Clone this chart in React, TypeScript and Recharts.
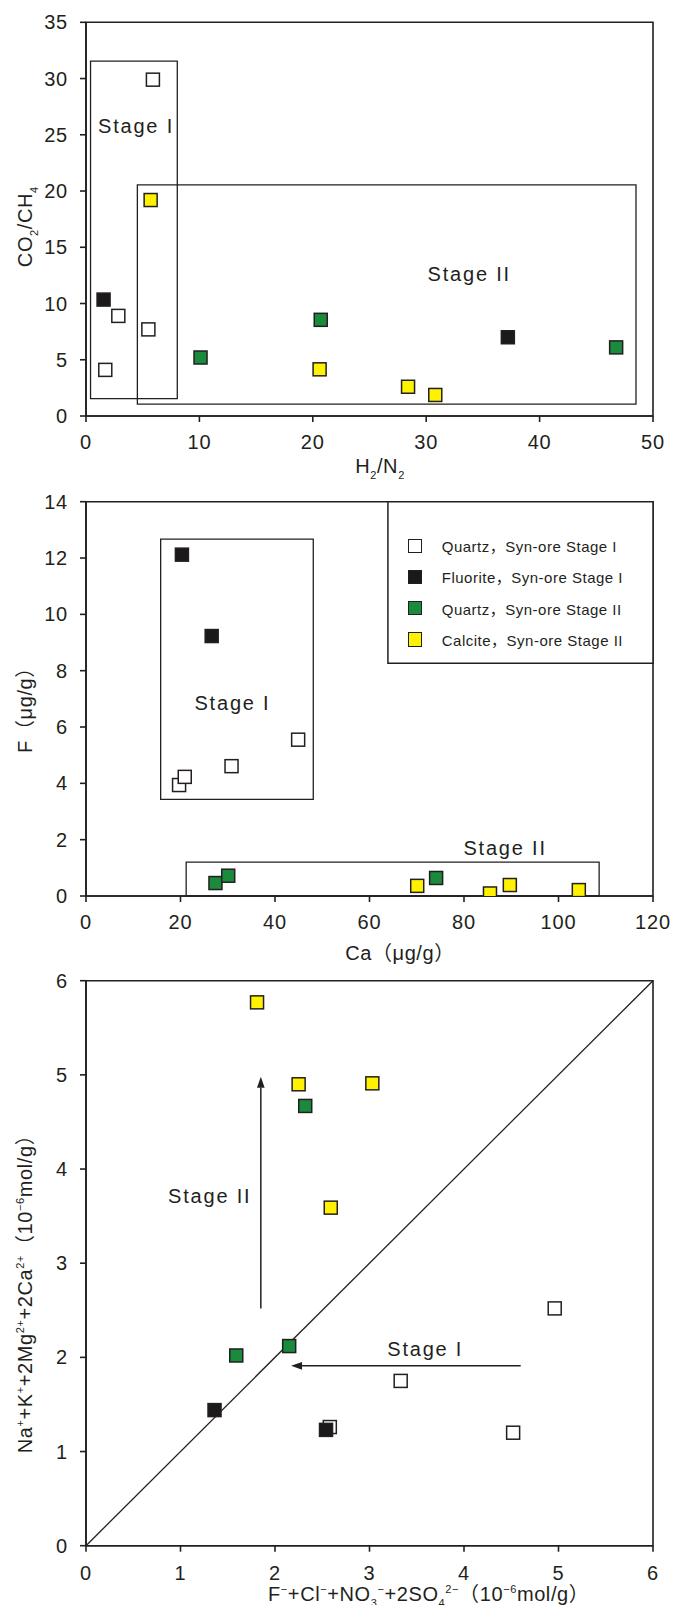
import React from 'react';
import {
  ScatterChart,
  Scatter,
  XAxis,
  YAxis,
  ReferenceArea,
  ReferenceLine,
  Legend,
} from 'recharts';

// ---------- series ----------
const seriesNames = [
  'Quartz，Syn-ore Stage I',
  'Fluorite，Syn-ore Stage I',
  'Quartz，Syn-ore Stage II',
  'Calcite，Syn-ore Stage II',
];
const seriesFills = ['#ffffff', '#1c1a19', '#1a8a3c', '#fff200'];

// Panel 1: H2/N2 vs CO2/CH4
const gasQuartzI = [
  { x: 1.7, y: 4.1 },
  { x: 2.85, y: 8.9 },
  { x: 5.5, y: 7.7 },
  { x: 5.9, y: 29.9 },
];
const gasFluoriteI = [
  { x: 1.55, y: 10.35 },
  { x: 37.2, y: 7.0 },
];
const gasQuartzII = [
  { x: 10.1, y: 5.2 },
  { x: 20.7, y: 8.55 },
  { x: 46.75, y: 6.1 },
];
const gasCalciteII = [
  { x: 5.7, y: 19.2 },
  { x: 20.6, y: 4.15 },
  { x: 28.4, y: 2.6 },
  { x: 30.8, y: 1.87 },
];

// Panel 2: Ca vs F (μg/g)
const fQuartzI = [
  { x: 19.7, y: 3.94 },
  { x: 20.9, y: 4.23 },
  { x: 30.8, y: 4.61 },
  { x: 44.9, y: 5.55 },
];
const fFluoriteI = [
  { x: 20.3, y: 12.12 },
  { x: 26.6, y: 9.23 },
];
const fQuartzII = [
  { x: 27.4, y: 0.46 },
  { x: 30.1, y: 0.72 },
  { x: 74.1, y: 0.64 },
];
const fCalciteII = [
  { x: 70.1, y: 0.36 },
  { x: 85.5, y: 0.09 },
  { x: 89.7, y: 0.39 },
  { x: 104.3, y: 0.21 },
];

// Panel 3: anions vs cations (10^-6 mol/g)
const ionQuartzI = [
  { x: 2.58, y: 1.26 },
  { x: 3.33, y: 1.75 },
  { x: 4.52, y: 1.2 },
  { x: 4.96, y: 2.52 },
];
const ionFluoriteI = [
  { x: 1.36, y: 1.44 },
  { x: 2.54, y: 1.23 },
];
const ionQuartzII = [
  { x: 1.59, y: 2.02 },
  { x: 2.15, y: 2.12 },
  { x: 2.32, y: 4.67 },
];
const ionCalciteII = [
  { x: 1.81, y: 5.77 },
  { x: 2.25, y: 4.9 },
  { x: 3.03, y: 4.91 },
  { x: 2.59, y: 3.59 },
];

// ---------- axes ----------
const gasXTicks = [0, 10, 20, 30, 40, 50];
const gasYTicks = [0, 5, 10, 15, 20, 25, 30, 35];
const caTicks = [0, 20, 40, 60, 80, 100, 120];
const fTicks = [0, 2, 4, 6, 8, 10, 12, 14];
const ionTicks = [0, 1, 2, 3, 4, 5, 6];

// ---------- field outlines and notes ----------
const gasStageBoxes = [
  { x1: 0.4, x2: 8.05, y1: 1.55, y2: 31.55 },
  { x1: 4.53, x2: 48.5, y1: 1.05, y2: 20.55 },
];
const fStageBoxes = [
  { x1: 15.8, x2: 48.1, y1: 3.43, y2: 12.67 },
  { x1: 21.2, x2: 108.6, y1: 0, y2: 1.2 },
];
const fLegendArea = { x1: 63.9, x2: 120, y1: 8.26, y2: 14 };

const gasNotes = [
  { x: 4.41, y: 25.8, label: 'Stage I' },
  { x: 33.8, y: 12.6, label: 'Stage II' },
];
const fNotes = [
  { x: 31.0, y: 6.86, label: 'Stage I' },
  { x: 88.7, y: 1.69, label: 'Stage II' },
];
const ionNotes = [
  { x: 1.31, y: 3.71, label: 'Stage II' },
  { x: 3.59, y: 2.09, label: 'Stage I' },
];
const ionTrends = [
  [{ x: 1.85, y: 2.52 }, { x: 1.85, y: 4.98 }],
  [{ x: 4.6, y: 1.91 }, { x: 2.17, y: 1.91 }],
];
const ionOneToOne = [{ x: 0, y: 0 }, { x: 6, y: 6 }];

// ---------- styling ----------
const FONT = "'Liberation Sans', Arial, 'Noto Sans CJK SC', sans-serif";
const INK = '#231f20';
const W = 686;
const PLOT_LEFT = 86;
const PLOT_RIGHT = 653;
const SQ = 13;

const axisStroke = { stroke: INK, strokeWidth: 1.6 };
const tickStyle = { fill: INK, fontSize: 20, fontFamily: FONT, letterSpacing: 0.8 };

type Seg = [string, number]; // 0 normal, 1 superscript, -1 subscript

function richSpans(segs: Seg[], fs: number) {
  let cur = 0;
  return segs.map(([t, k], i) => {
    const target = k === 1 ? -0.42 * fs : k === -1 ? 0.3 * fs : 0;
    const dy = target - cur;
    cur = target;
    return (
      <tspan key={i} dy={dy} fontSize={k ? fs * 0.55 : fs}>
        {t}
      </tspan>
    );
  });
}

function axisTitle(x: number, y: number, segs: Seg[], rotate = false) {
  return () => (
    <text
      x={x}
      y={y}
      textAnchor="middle"
      fill={INK}
      fontFamily={FONT}
      fontSize={20}
      letterSpacing={0.6}
      transform={rotate ? `rotate(-90 ${x} ${y})` : undefined}
    >
      {richSpans(segs, 20)}
    </text>
  );
}

const squareShape = (fill: string) => (p: any) => {
  if (p.cx == null || p.cy == null) return null;
  return (
    <rect
      x={p.cx - SQ / 2}
      y={p.cy - SQ / 2}
      width={SQ}
      height={SQ}
      fill={fill}
      stroke={INK}
      strokeWidth={1.5}
    />
  );
};

const NoteText = (p: any) => {
  if (p.cx == null || p.cy == null) return null;
  return (
    <text
      x={p.cx}
      y={p.cy}
      textAnchor="middle"
      dominantBaseline="central"
      fontFamily={FONT}
      fontSize={20}
      letterSpacing={1.8}
      fill={INK}
    >
      {p.payload?.label}
    </text>
  );
};

const arrowShape = (p: any) => {
  const { x1, y1, x2, y2 } = p;
  const ang = Math.atan2(y2 - y1, x2 - x1);
  const L = 11;
  const Wd = 3.8;
  const bx = x2 - L * Math.cos(ang);
  const by = y2 - L * Math.sin(ang);
  const nx = -Math.sin(ang) * Wd;
  const ny = Math.cos(ang) * Wd;
  return (
    <g>
      <line x1={x1} y1={y1} x2={bx} y2={by} stroke={INK} strokeWidth={1.5} />
      <polygon
        points={`${x2},${y2} ${bx + nx},${by + ny} ${bx - nx},${by - ny}`}
        fill={INK}
      />
    </g>
  );
};

// Legend rows follow the series order, taking colours from the chart's payload.
const LegendContent = (props: any) => {
  const payload = props.payload || [];
  const items = seriesNames.map((n, i) => {
    const hit = payload.find((e: any) => e.value === n);
    return { value: n, color: hit?.color ?? seriesFills[i] };
  });
  return (
    <div style={{ fontFamily: FONT, fontSize: 15, color: INK }}>
      {items.map((e: any, i: number) => (
        <div key={i} style={{ display: 'flex', alignItems: 'center', height: 31.2 }}>
          <span
            style={{
              display: 'inline-block',
              width: 14.5,
              height: 14.5,
              boxSizing: 'border-box',
              border: `1.5px solid ${INK}`,
              background: e.color,
            }}
          />
          <span style={{ marginLeft: 19.5, letterSpacing: 0.5, whiteSpace: 'nowrap' }}>
            {e.value}
          </span>
        </div>
      ))}
    </div>
  );
};

function Panel(props: any) {
  const {
    top,
    height,
    plotTop,
    plotBottom,
    xDomain,
    xTicks,
    yDomain,
    yTicks,
    groups,
    boxes,
    notes,
    arrows,
    diagonal,
    legendArea,
    xTitle,
    yTitle,
    xTickMargin,
  } = props;
  const axisHeight = top + height - plotBottom;
  return (
    <div style={{ position: 'absolute', left: 0, top, width: W, height }}>
      <ScatterChart
        width={W}
        height={height}
        margin={{ top: plotTop - top, right: W - PLOT_RIGHT, bottom: 0, left: 0 }}
      >
        <XAxis
          type="number"
          dataKey="x"
          domain={xDomain}
          ticks={xTicks}
          interval={0}
          allowDataOverflow
          height={axisHeight}
          tickSize={6}
          tickMargin={xTickMargin}
          axisLine={axisStroke}
          tickLine={axisStroke}
          tick={tickStyle}
          label={xTitle}
        />
        <YAxis
          type="number"
          dataKey="y"
          domain={yDomain}
          ticks={yTicks}
          interval={0}
          allowDataOverflow
          width={PLOT_LEFT}
          tickSize={6}
          tickMargin={12}
          axisLine={axisStroke}
          tickLine={axisStroke}
          tick={tickStyle}
          label={yTitle}
        />
        <ReferenceArea
          x1={xDomain[0]}
          x2={xDomain[1]}
          y1={yDomain[0]}
          y2={yDomain[1]}
          fill="none"
          stroke={INK}
          strokeWidth={1.6}
        />
        {(boxes || []).map((b: any, i: number) => (
          <ReferenceArea
            key={`box${i}`}
            x1={b.x1}
            x2={b.x2}
            y1={b.y1}
            y2={b.y2}
            fill="none"
            stroke={INK}
            strokeWidth={1.3}
          />
        ))}
        {legendArea && (
          <ReferenceArea
            x1={legendArea.x1}
            x2={legendArea.x2}
            y1={legendArea.y1}
            y2={legendArea.y2}
            fill="#ffffff"
            fillOpacity={1}
            stroke={INK}
            strokeWidth={1.5}
          />
        )}
        {diagonal && (
          <ReferenceLine segment={diagonal} stroke={INK} strokeWidth={1.3} />
        )}
        {(arrows || []).map((seg: any, i: number) => (
          <ReferenceLine key={`arr${i}`} segment={seg} stroke={INK} shape={arrowShape} />
        ))}
        {groups.map((data: any[], i: number) => (
          <Scatter
            key={seriesNames[i]}
            name={seriesNames[i]}
            data={data}
            fill={seriesFills[i]}
            legendType="square"
            shape={squareShape(seriesFills[i])}
            isAnimationActive={false}
          />
        ))}
        <Scatter
          name="notes"
          data={notes}
          legendType="none"
          shape={NoteText}
          isAnimationActive={false}
        />
        {legendArea && (
          <Legend
            layout="vertical"
            align="center"
            verticalAlign="middle"
            content={LegendContent}
            wrapperStyle={{ left: 407.75, top: 44.2, width: 260, height: 130 }}
          />
        )}
      </ScatterChart>
    </div>
  );
}

export default function App() {
  return (
    <div
      style={{
        position: 'absolute',
        left: 0,
        top: 0,
        width: W,
        height: 1605,
        background: '#ffffff',
        overflow: 'hidden',
      }}
    >
      <Panel
        top={0}
        height={486}
        plotTop={22.3}
        plotBottom={416}
        xDomain={[0, 50]}
        xTicks={gasXTicks}
        yDomain={[0, 35]}
        yTicks={gasYTicks}
        groups={[gasQuartzI, gasFluoriteI, gasQuartzII, gasCalciteII]}
        boxes={gasStageBoxes}
        notes={gasNotes}
        xTickMargin={13}
        xTitle={axisTitle(380, 473.3, [['H', 0], ['2', -1], ['/N', 0], ['2', -1]])}
        yTitle={axisTitle(32, 226.7, [['CO', 0], ['2', -1], ['/CH', 0], ['4', -1]], true)}
      />
      <Panel
        top={486}
        height={480}
        plotTop={501.7}
        plotBottom={896}
        xDomain={[0, 120]}
        xTicks={caTicks}
        yDomain={[0, 14]}
        yTicks={fTicks}
        groups={[fQuartzI, fFluoriteI, fQuartzII, fCalciteII]}
        boxes={fStageBoxes}
        legendArea={fLegendArea}
        notes={fNotes}
        xTickMargin={13}
        xTitle={axisTitle(400, 474, [['Ca（μg/g）', 0]])}
        yTitle={axisTitle(32, 219, [['F（μg/g）', 0]], true)}
      />
      <Panel
        top={966}
        height={639}
        plotTop={980.7}
        plotBottom={1545.7}
        xDomain={[0, 6]}
        xTicks={ionTicks}
        yDomain={[0, 6]}
        yTicks={ionTicks}
        groups={[ionQuartzI, ionFluoriteI, ionQuartzII, ionCalciteII]}
        notes={ionNotes}
        arrows={ionTrends}
        diagonal={ionOneToOne}
        xTickMargin={14}
        xTitle={axisTitle(428.7, 635, [
          ['F', 0], ['−', 1], ['+Cl', 0], ['−', 1], ['+NO', 0], ['3', -1], ['−', 1],
          ['+2SO', 0], ['4', -1], ['2−', 1], ['（10', 0], ['−6', 1], ['mol/g）', 0],
        ])}
        yTitle={axisTitle(32, 323, [
          ['Na', 0], ['+', 1], ['+K', 0], ['+', 1], ['+2Mg', 0], ['2+', 1],
          ['+2Ca', 0], ['2+', 1], ['（10', 0], ['−6', 1], ['mol/g）', 0],
        ], true)}
      />
    </div>
  );
}
